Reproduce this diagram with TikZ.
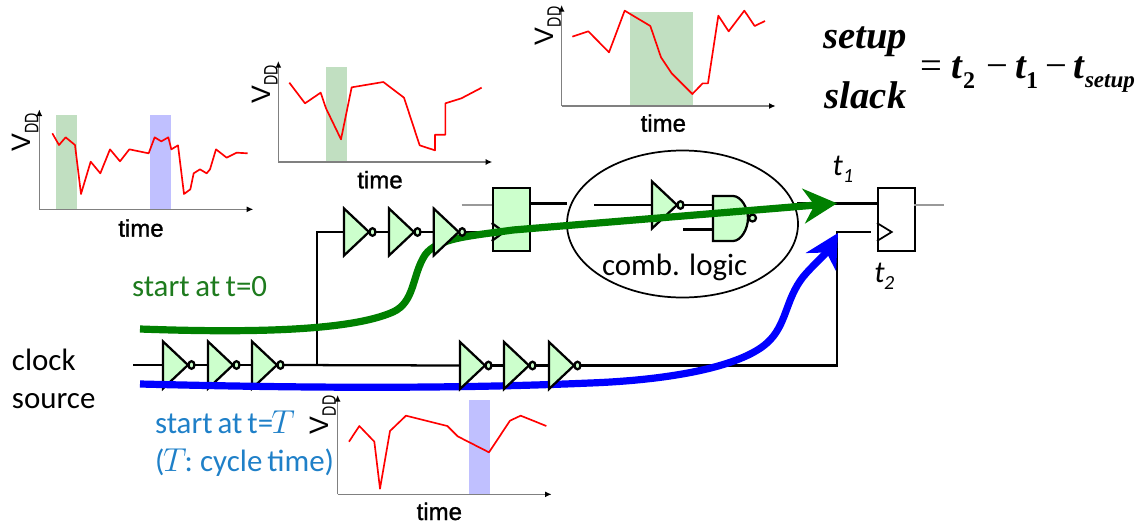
\documentclass[tikz,border=0pt]{standalone}
\usepackage{fontspec}
\usetikzlibrary{arrows.meta,shapes.geometric}
\setmainfont{Carlito}
\font\timefnt="Liberation Sans:embolden=1.2" at 18pt
\newfontfamily\vddfont{Liberation Sans}
\newfontfamily\eqfont{Liberation Serif}
\newcommand{\fsz}[1]{\fontsize{#1}{#1}\selectfont}
\definecolor{gatefill}{HTML}{CCFFCC}
\definecolor{bandg}{HTML}{C1DFC1}
\definecolor{bandb}{HTML}{C0C0FF}
\definecolor{startg}{HTML}{1E7B1E}
\definecolor{startb}{HTML}{1F80C8}
\definecolor{pathg}{HTML}{008000}
\definecolor{pathb}{HTML}{0000FF}
\pgfdeclarelayer{curves}
\pgfdeclarelayer{front}
\pgfsetlayers{main,curves,front}
\tikzset{
  wire/.style={draw=black,line width=1.7pt},
  greywire/.style={draw=gray!80,line width=1.7pt},
  gate/.style={draw=black,fill=gatefill,line width=1.7pt},
  axis/.style={draw=gray,line width=1.2pt,-{Latex[length=5pt,width=4.5pt,black]}},
  trace/.style={draw=red,line width=1.25pt,line join=round},
  lbl/.style={inner sep=0pt,outer sep=0pt,anchor=base west},
  timelbl/.style={inner sep=0pt,outer sep=0pt,anchor=base,font={\timefnt}},
  vddlbl/.style={inner sep=0pt,outer sep=0pt,anchor=base west,rotate=90},
  carl/.style={lbl,font={\fsz{23.2}}},
  eqbig/.style={lbl,font={\eqfont\bfseries\itshape\fsz{29}}},
  eqop/.style={lbl,font={\eqfont\fsz{29}}},
  eqsub/.style={lbl,font={\eqfont\bfseries\fsz{18}}},
  path arrow/.style={line width=5.4pt,line cap=butt},
  inv/.pic={
    \path[gate] (0,-23.5) -- (25,0) -- (0,23.5) -- cycle;
    \draw[line width=1.7pt,fill=gatefill] (28.5,0) ellipse [x radius=3,y radius=3.8];
    \coordinate (-in) at (0,0);
    \coordinate (-out) at (32,0);
  }
}
\newcommand{\vddtext}{\vddfont\fsz{20}V\raisebox{-5.7pt}{\scalebox{.73}[1]{\fsz{14.6}DD}}}
\begin{document}
\begin{tikzpicture}[x=.75pt,y=-.75pt]
\useasboundingbox (0,0) rectangle (1143,529);

% ---- voltage graphs
\begin{scope}[shift={(0,90)},x=.25pt,y=-.25pt]
  \fill[bandg] (168,75) rectangle (231,358);
  \fill[bandb] (449,75) rectangle (512,358);
  \coordinate (g1o) at (118,358); \coordinate (g1y) at (118,58); \coordinate (g1x) at (760,358);
  \draw[axis] (g1o) -- (g1y);
  \draw[axis] (g1o) -- (g1x);
  \draw[trace] (157,130)--(177,165)--(197,142)--(225,165)--(243,312)--(272,215)--(301,250)--(330,178)--(360,214)--(388,178)--(446,190)--(464,142)--(484,154)--(505,142)--(514,178)--(534,166)--(552,312)--(571,298)--(581,250)--(600,238)--(620,250)--(630,238)--(648,178)--(680,203)--(710,188)--(743,190);
  \node[vddlbl] (v1) at (92,185) {\vddtext};
  \node[timelbl] (t1lbl) at (423,440) {time};
\end{scope}
\begin{scope}[shift={(250,0)},x=.25pt,y=-.25pt]
  \fill[bandg] (228,200) rectangle (291,486);
  \coordinate (g2o) at (85,486); \coordinate (g2y) at (85,183); \coordinate (g2x) at (727,486);
  \draw[axis] (g2o) -- (g2y);
  \draw[axis] (g2o) -- (g2x);
  \draw[trace] (118,248)--(165,310)--(212,278)--(228,325)--(273,418)--(305,262)--(400,246)--(462,293)--(509,436)--(555,451)--(555,404)--(586,404)--(586,310)--(634,295)--(695,263);
  \node[vddlbl] (v2) at (60,310) {\vddtext};
  \node[timelbl] (t2lbl) at (390,565) {time};
\end{scope}
\begin{scope}[shift={(520,0)},x=.25pt,y=-.25pt]
  \fill[bandg] (331,35) rectangle (518,318);
  \coordinate (g3o) at (125,318); \coordinate (g3y) at (125,15); \coordinate (g3x) at (767,318);
  \draw[axis] (g3o) -- (g3y);
  \draw[axis] (g3o) -- (g3x);
  \draw[trace] (157,110)--(205,94)--(267,157)--(314,32)--(391,78)--(423,172)--(455,220)--(517,282)--(548,250)--(564,250)--(595,47)--(626,94)--(673,32)--(704,78)--(735,63);
  \node[vddlbl] (v3) at (100,135) {\vddtext};
  \node[timelbl] (t3lbl) at (430,395) {time};
\end{scope}
\begin{scope}[shift={(300,330)},x=.25pt,y=-.25pt]
  \fill[bandb] (507,210) rectangle (569,493);
  \coordinate (g4o) at (113,493); \coordinate (g4y) at (113,195); \coordinate (g4x) at (755,493);
  \draw[axis] (g4o) -- (g4y);
  \draw[axis] (g4o) -- (g4x);
  \draw[trace] (147,335)--(178,288)--(223,335)--(240,476)--(270,303)--(318,257)--(442,288)--(473,319)--(567,367)--(630,272)--(662,257)--(739,288);
  \node[vddlbl] (v4) at (85,312) {\vddtext};
  \node[timelbl] (t4lbl) at (418,570) {time};
\end{scope}

% ---- gates drawn over the timing paths
\begin{pgfonlayer}{front}
  \pic (t3) at (433.7,232) {inv};
  \pic (r1) at (460,365.5) {inv};
  \pic (r2) at (504,365.5) {inv};
  \pic (r3) at (549,365.5) {inv};
\end{pgfonlayer}

% ---- gates under the timing paths
\pic (l1) at (163,365) {inv};
\pic (l2) at (208,365) {inv};
\pic (l3) at (252,365) {inv};
\pic (t1) at (344,232) {inv};
\pic (t2) at (389,232) {inv};
\pic (c1) at (652,205) {inv};

% launching flip-flop
\node[gate,inner sep=0pt,anchor=north west,minimum width=28pt,minimum height=47.25pt] (ffa) at (491.7,186.7) {};
\coordinate (ffad) at (491.7,205);
\coordinate (ffaq) at (529,203.5);
\coordinate (ffack) at (491.7,232);
\draw[line width=1.7pt] (491.7,223) -- (504,232) -- (491.7,241);

% capturing flip-flop
\node[draw=black,line width=1.7pt,fill=white,inner sep=0pt,anchor=north west,minimum width=28pt,minimum height=47.25pt] (ffb) at (876.7,187) {};
\coordinate (ffbd) at (876.7,203.5);
\coordinate (ffbck) at (871,232);
\draw[line width=1.3pt,draw=black] (877,223) -- (891.7,232) -- (877,241);

% NAND
\path[gate] (713,196) -- (733,196) .. controls (741,196) and (748,208) .. (748,218) .. controls (748,229) and (741,241) .. (733,241) -- (713,241) -- cycle;
\draw[line width=1.7pt,fill=gatefill] (752.5,218) circle [radius=3.5];
\coordinate (nandA) at (713,205);
\coordinate (nandB) at (713,229.5);

% logic cloud
\node[draw=black,line width=1.3pt,ellipse,inner sep=0pt,minimum width=173.25pt,minimum height=110.25pt] (cloud) at (682.5,224) {};

% ---- wires
\coordinate (clkin) at (133,365);
\coordinate (cin) at (594,205);
\coordinate (cin2) at (683,229.5);
\coordinate (qa) at (567,203.5);
\coordinate (da) at (461.7,205);
\coordinate (qbi) at (914,205);
\coordinate (qb) at (944,205);
\coordinate (ja) at (316.7,365);
\coordinate (jb) at (837,232);
\coordinate (dbw) at (797,203.5);
\coordinate (jc) at (837,365.5);
\draw[wire] (clkin) -- (l1-in);
\draw[wire] (l1-out) -- (l2-in);
\draw[wire] (l2-out) -- (l3-in);
\draw[wire] (l3-out) -- (r1-in);
\draw[wire] (ja) |- (t1-in);
\draw[wire] (t1-out) -- (t2-in);
\draw[wire] (t2-out) -- (t3-in);
\draw[wire] (t3-out) -- (ffack);
\draw[wire] (r1-out) -- (r2-in);
\draw[wire] (r2-out) -- (r3-in);
\draw[wire] (r3-out) -- (jc) -- (jb) -- (ffbck);
\draw[wire] (ffaq) -- (qa);
\draw[wire] (cin) -- (c1-in);
\draw[wire] (c1-out) -- (nandA);
\draw[wire] (cin2) -- (nandB);
\draw[wire] (dbw) -- (ffbd);
\draw[greywire] (da) -- (ffad);
\draw[greywire] (qbi) -- (qb);

% ---- timing paths
\begin{pgfonlayer}{curves}
  \coordinate (gs) at (140,329);
  \coordinate (ge) at (837,203.3);
  \coordinate (bs) at (140,384);
  \coordinate (be) at (838,233);
  \draw[pathg,path arrow,-{Stealth[length=25pt,width=26pt,inset=8pt]}]
    (gs) .. controls (250,333) and (350,331) .. (393,312)
         .. controls (415,302) and (412,275) .. (425,255)
         .. controls (437,238) and (470,236) .. (513,230) -- (ge);
  \draw[pathb,path arrow,-{Stealth[length=25pt,width=26pt,inset=8pt]}]
    (bs) .. controls (300,388) and (450,389) .. (590,383)
         .. controls (670,380) and (740,367) .. (767,343)
         .. controls (787,325) and (785,300) .. (803,277)
         .. controls (812,266) and (825,255) .. (be);
\end{pgfonlayer}

% ---- texts
\node[carl] (comb) at (602,275) {comb. logic};
\node[carl] (clk) at (12,370) {clock};
\node[carl] (src) at (12,408) {source};
\node[carl,text=startg] (sg) at (132,296) {\spaceskip=.18em start at t=0};
\node[carl,text=startb] (sb) at (155,433) {\spaceskip=.16em start at t=\kern-1.5pt$T$};
\node[carl,text=startb] (cy) at (155,471) {\spaceskip=.16em (\kern-1pt$T$\kern-1.5pt: cycle time)};
\node[lbl,font={\itshape\fsz{23}}] (lt1) at (832.7,175.7) {t};
\node[lbl,font={\itshape\fsz{15}}] (lt1s) at (843,182) {1};
\node[lbl,font={\itshape\fsz{23}}] (lt2) at (874.3,282.7) {t};
\node[lbl,font={\itshape\fsz{15}}] (lt2s) at (884,289) {2};

\node[eqbig] (e1) at (823.3,48) {setup};
\node[eqbig] (e2) at (824.8,108) {slack};
\node[eqop] (e3) at (920,78.3) {=};
\node[eqbig] (e4) at (951.7,78.3) {t};
\node[eqsub] (e5) at (963,88) {2};
\node[eqop] (e6) at (986,78.3) {\char"2212};
\node[eqbig] (e7) at (1015,78.3) {t};
\node[eqsub] (e8) at (1026,88) {1};
\node[eqop] (e9) at (1045,78.3) {\char"2212};
\node[eqbig] (e10) at (1073,78.3) {t};
\node[lbl,font={\eqfont\bfseries\itshape\fsz{17.3}}] (e11) at (1085,87) {setup};
\end{tikzpicture}
\end{document}
